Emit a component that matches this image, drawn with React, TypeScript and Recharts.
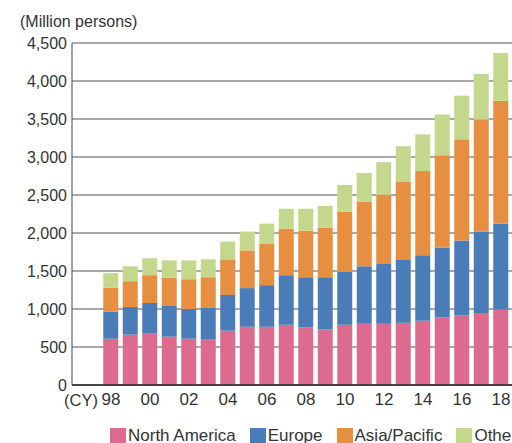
import { Bar, BarChart, CartesianGrid, XAxis, YAxis } from 'recharts'

// Calendar years, two-digit labels as printed under the bars
const years = [
	'98', '99', '00', '01', '02', '03', '04', '05', '06', '07', '08',
	'09', '10', '11', '12', '13', '14', '15', '16', '17', '18'
]

// Million persons per region (stacked bottom to top)
const northAmerica = [
	609, 662, 675, 636, 609, 596, 714, 766, 766, 792, 757,
	731, 792, 805, 805, 818, 844, 887, 914, 949, 992
]
const europe = [
	357, 365, 404, 404, 392, 418, 470, 509, 548, 653, 661,
	687, 696, 757, 796, 835, 862, 923, 987, 1070, 1131
]
const asiaPacific = [
	313, 339, 366, 369, 391, 404, 469, 496, 548, 613, 614,
	653, 792, 848, 901, 1018, 1109, 1214, 1331, 1474, 1618
]
const other = [
	192, 196, 222, 231, 248, 235, 235, 248, 261, 261, 287,
	287, 352, 379, 430, 470, 483, 535, 575, 601, 627
]

const yTicks = [0, 500, 1000, 1500, 2000, 2500, 3000, 3500, 4000, 4500]

const SERIES = [
	{ key: 'northAmerica', name: 'North America', color: '#dd6b8f' },
	{ key: 'europe', name: 'Europe', color: '#4a7db8' },
	{ key: 'asiaPacific', name: 'Asia/Pacific', color: '#e78f40' },
	{ key: 'other', name: 'Other', color: '#c3d88c' }
]

const data = years.map((year, i) => ({
	year,
	northAmerica: northAmerica[i],
	europe: europe[i],
	asiaPacific: asiaPacific[i],
	other: other[i]
}))

const FONT = '"Liberation Sans", Arial, sans-serif'
const TEXT = '#333'

export default function App() {
	// fixed frame the size of the window, so nothing overflows and scrolls;
	// the chart runs off the right and bottom edges like the source image
	return (
		<div
			style={{
				position: 'fixed',
				left: 0,
				top: 0,
				width: 512,
				height: 443,
				overflow: 'hidden',
				background: '#fff',
				fontFamily: FONT,
				color: TEXT
			}}
		>
			<div style={{ position: 'absolute', left: 8, top: 8, width: 530, height: 440 }}>
				<div style={{ position: 'absolute', left: 12, top: 5, fontSize: 16, whiteSpace: 'nowrap' }}>
					(Million persons)
				</div>
				<BarChart
					width={530}
					height={420}
					data={data}
					margin={{ top: 35, right: 7, bottom: 13, left: 0 }}
					style={{ fontFamily: FONT }}
				>
					<CartesianGrid vertical={false} stroke="#555" />
					<XAxis
						dataKey="year"
						interval={1}
						tickLine={false}
						stroke="#222"
						strokeWidth={1.5}
						padding={{ left: 29.25, right: 20.25 }}
						tick={{ fontSize: 17, fill: TEXT }}
					/>
					<YAxis
						width={64}
						domain={[0, 4500]}
						ticks={yTicks}
						tickLine={false}
						tickSize={3}
						tickMargin={2}
						stroke="#444"
						tick={{ fontSize: 16, fill: TEXT }}
						tickFormatter={(v: number) => v.toLocaleString('en-US')}
					/>
					{SERIES.map((s) => (
						<Bar
							key={s.key}
							dataKey={s.key}
							name={s.name}
							stackId="a"
							fill={s.color}
							barSize={15}
							isAnimationActive={false}
						/>
					))}
				</BarChart>
				<div style={{ position: 'absolute', left: 56, top: 383, fontSize: 16.5, whiteSpace: 'nowrap' }}>
					(CY)
				</div>
				<div
					style={{
						position: 'absolute',
						left: 102,
						top: 419,
						display: 'flex',
						gap: 14,
						fontSize: 17,
						lineHeight: '17px',
						whiteSpace: 'nowrap'
					}}
				>
					{SERIES.map((s) => (
						<div key={s.key} style={{ display: 'flex', alignItems: 'flex-start' }}>
							<span
								style={{
									display: 'inline-block',
									width: 16,
									height: 17,
									marginTop: 1,
									marginRight: 2,
									background: s.color
								}}
							/>
							<span>{s.name}</span>
						</div>
					))}
				</div>
			</div>
		</div>
	)
}
